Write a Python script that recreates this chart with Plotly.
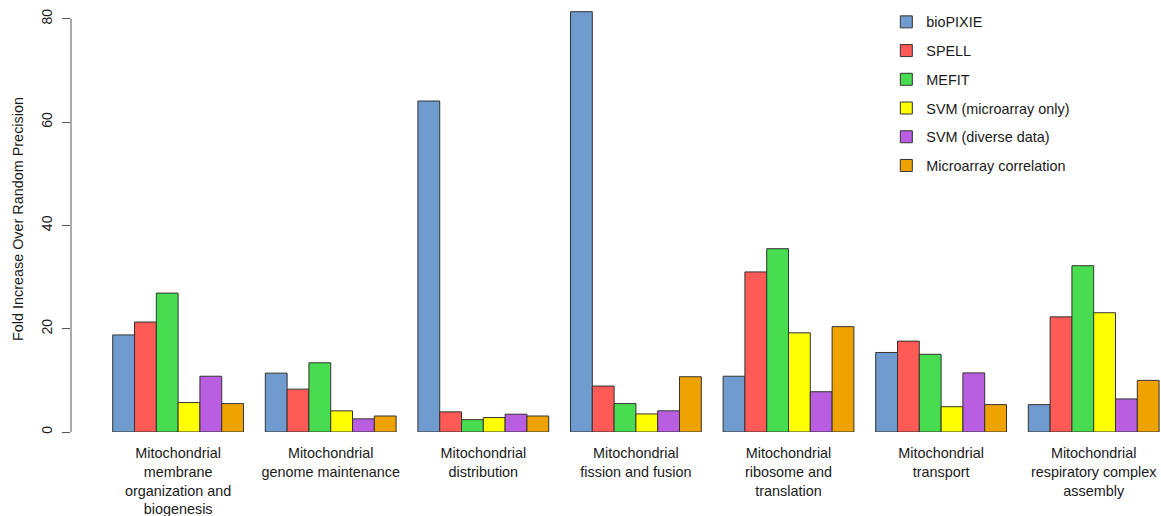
import plotly.graph_objects as go

categories = [
    "Mitochondrial<br>membrane<br>organization and<br>biogenesis",
    "Mitochondrial<br>genome maintenance",
    "Mitochondrial<br>distribution",
    "Mitochondrial<br>fission and fusion",
    "Mitochondrial<br>ribosome and<br>translation",
    "Mitochondrial<br>transport",
    "Mitochondrial<br>respiratory complex<br>assembly",
]

series_names = ["bioPIXIE", "SPELL", "MEFIT", "SVM (microarray only)",
                "SVM (diverse data)", "Microarray correlation"]

biopixie = [18.8, 11.4, 64.1, 81.4, 10.8, 15.4, 5.3]
spell = [21.3, 8.3, 3.9, 8.9, 31.0, 17.6, 22.3]
mefit = [26.9, 13.4, 2.4, 5.5, 35.5, 15.05, 32.2]
svm_micro = [5.7, 4.1, 2.8, 3.5, 19.2, 4.9, 23.1]
svm_diverse = [10.8, 2.55, 3.45, 4.1, 7.8, 11.45, 6.4]
micro_corr = [5.5, 3.1, 3.1, 10.7, 20.4, 5.3, 10.0]

values = [biopixie, spell, mefit, svm_micro, svm_diverse, micro_corr]
colors = ["#6F9BCE", "#FF5A55", "#48DC50", "#FFFF00", "#B95DE1", "#EEA300"]

y_ticks = [0, 20, 40, 60, 80]

FONT = "Liberation Sans, Arial, Helvetica, sans-serif"

fig = go.Figure()
for i, (name, vals, col) in enumerate(zip(series_names, values, colors)):
    fig.add_trace(go.Bar(
        x=categories, y=vals, name=name, legendgroup=f"g{i}",
        marker=dict(color=col, line=dict(color="#333333", width=1)),
    ))

fig.update_layout(
    width=1161, height=516,
    margin=dict(l=71, r=0, t=6, b=84),
    paper_bgcolor="white", plot_bgcolor="white",
    barmode="group", bargap=1/7, bargroupgap=0,
    font=dict(family=FONT, size=14.4, color="#1a1a1a"),
    showlegend=True,
    legend=dict(x=0.748, y=1.0, xanchor="left", yanchor="top",
                bgcolor="rgba(0,0,0,0)", tracegroupgap=7,
                font=dict(size=14.4, family=FONT, color="#1a1a1a")),
    xaxis=dict(range=[-0.702, 6.441], showline=False, showgrid=False,
               zeroline=False, ticks="outside", ticklen=8,
               tickcolor="rgba(0,0,0,0)", tickangle=0, automargin=False,
               tickfont=dict(size=14.4, family=FONT, color="#1a1a1a")),
    yaxis=dict(range=[0, 82.5], tickvals=y_ticks, ticktext=[str(v) for v in y_ticks],
               showline=False, showgrid=False, zeroline=False,
               ticks="outside", ticklen=8, tickcolor="#555555", tickwidth=1,
               tickangle=-90, automargin=False, ticklabelstandoff=4,
               tickfont=dict(size=14, family=FONT, color="#1a1a1a")),
    shapes=[dict(type="line", xref="paper", yref="y", x0=0, x1=0,
                 y0=0, y1=80, line=dict(color="#555555", width=1))],
    annotations=[dict(text="Fold Increase Over Random Precision", xref="paper",
                      yref="paper", x=-0.0486, y=0.5, xanchor="center",
                      yanchor="middle", textangle=-90, showarrow=False,
                      font=dict(size=14.4, family=FONT, color="#1a1a1a"))],
)

fig.write_html("out.html", config={"displayModeBar": False})

with open("out.html", "r", encoding="utf-8") as f:
    html = f.read()
html = html.replace("<body>", '<body style="margin:0;padding:0;overflow:hidden">', 1)
with open("out.html", "w", encoding="utf-8") as f:
    f.write(html)
